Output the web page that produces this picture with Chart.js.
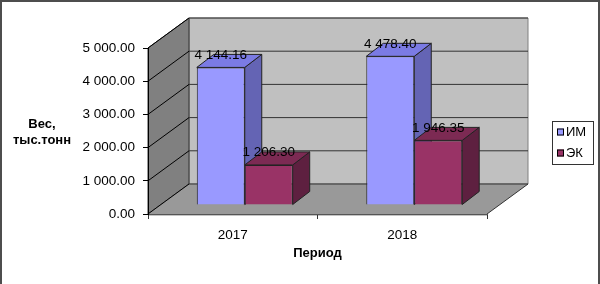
<!DOCTYPE html>
<html>
<head>
    <title>Вес по периодам</title>
    <meta charset="utf-8">
    <script src="https://cdn.jsdelivr.net/npm/chart.js"></script>
    <style>
        body {
            margin: 0;
            padding: 0;
            background-color: #fff;
        }
        #wrap {
            position: relative;
            width: 600px;
            height: 284px;
        }
    </style>
</head>
<body>
    <div id="wrap">
        <canvas id="weight-chart"></canvas>
    </div>

    <script>
        // данные
        const periods = ['2017', '2018'];
        const seriesNames = ['ИМ', 'ЭК'];
        const imValues = [4144.16, 4478.40];
        const ekValues = [1206.30, 1946.35];
        const yTicks = [0, 1000, 2000, 3000, 4000, 5000];

        // 3D: глубина стенок, сдвиг рядов и глубина столбиков
        const WALL = { x: 41, y: -30 };
        const SHIFT = { x: 12, y: -9 };
        const BAR = { x: 17, y: -13 };

        function fmt(v) {
            const parts = v.toFixed(2).split('.');
            return parts[0].replace(/\B(?=(\d{3})+(?!\d))/g, ' ') + '.' + parts[1];
        }

        function poly(ctx, pts, fill, stroke) {
            ctx.beginPath();
            ctx.moveTo(pts[0][0], pts[0][1]);
            for (let i = 1; i < pts.length; i++) ctx.lineTo(pts[i][0], pts[i][1]);
            ctx.closePath();
            if (fill) { ctx.fillStyle = fill; ctx.fill(); }
            if (stroke) { ctx.strokeStyle = stroke; ctx.lineWidth = 1; ctx.stroke(); }
        }

        const wallsPlugin = {
            id: 'walls',
            beforeDraw(chart) {
                const ctx = chart.ctx;
                const { left, right, top, bottom } = chart.chartArea;
                const dx = WALL.x, dy = WALL.y;
                ctx.save();
                poly(ctx, [[left + dx, top + dy], [right + dx, top + dy], [right + dx, bottom + dy], [left + dx, bottom + dy]], '#c0c0c0', '#808080');
                poly(ctx, [[left, top], [left + dx, top + dy], [left + dx, bottom + dy], [left, bottom]], '#808080', '#333');
                poly(ctx, [[left, bottom], [right, bottom], [right + dx, bottom + dy], [left + dx, bottom + dy]], '#999999', null);
                // край пола
                poly(ctx, [[left, bottom], [right, bottom], [right, bottom + 2], [left, bottom + 2]], '#c4c4c4', null);
                ctx.strokeStyle = '#333';
                ctx.lineWidth = 1;
                ctx.beginPath();
                ctx.moveTo(right, bottom);
                ctx.lineTo(right + dx, bottom + dy);
                ctx.stroke();

                // линии сетки
                const y = chart.scales.y;
                y.ticks.forEach(t => {
                    const py = y.getPixelForValue(t.value);
                    ctx.strokeStyle = '#000';
                    ctx.beginPath();
                    ctx.moveTo(left, py);
                    ctx.lineTo(left + dx, py + dy);
                    ctx.stroke();
                    ctx.strokeStyle = '#333';
                    ctx.beginPath();
                    ctx.moveTo(left + dx, py + dy);
                    ctx.lineTo(right + dx, py + dy);
                    ctx.stroke();
                });
                ctx.restore();
            }
        };

        const barsPlugin = {
            id: 'bars3d',
            beforeDatasetsDraw(chart) {
                const ctx = chart.ctx;
                ctx.save();
                ctx.translate(SHIFT.x, SHIFT.y);
                const bars = [];
                chart.data.datasets.forEach((ds, i) => {
                    chart.getDatasetMeta(i).data.forEach(el => bars.push({ el, ds }));
                });
                bars.sort((a, b) => a.el.x - b.el.x);
                bars.forEach(({ el, ds }) => {
                    const l = el.x - el.width / 2, r = el.x + el.width / 2;
                    const t = el.y, b = el.base;
                    poly(ctx, [[r, t], [r + BAR.x, t + BAR.y], [r + BAR.x, b + BAR.y], [r, b]], ds.sideColor, '#222');
                    poly(ctx, [[l, t], [r, t], [r + BAR.x, t + BAR.y], [l + BAR.x, t + BAR.y]], ds.topColor, '#222');
                });
            },
            afterDatasetsDraw(chart) {
                const ctx = chart.ctx;
                ctx.font = '13.5px Arial, "Liberation Sans", sans-serif';
                ctx.fillStyle = '#000';
                ctx.textAlign = 'center';
                ctx.textBaseline = 'middle';
                chart.data.datasets.forEach((ds, i) => {
                    chart.getDatasetMeta(i).data.forEach((el, j) => {
                        ctx.fillText(fmt(ds.data[j]), el.x, el.y - 12.5);
                    });
                });
                ctx.restore();
            },
            afterDraw(chart) {
                const ctx = chart.ctx;
                ctx.save();
                // подпись оси Y
                ctx.font = 'bold 13px Arial, "Liberation Sans", sans-serif';
                ctx.fillStyle = '#000';
                ctx.textAlign = 'center';
                ctx.textBaseline = 'middle';
                ctx.fillText('Вес,', 42, 124);
                ctx.fillText('тыс.тонн', 42, 140);

                // легенда
                ctx.strokeStyle = '#333';
                ctx.lineWidth = 1;
                ctx.strokeRect(552.5, 121.5, 41, 43);
                ctx.font = '13px Arial, "Liberation Sans", sans-serif';
                ctx.textAlign = 'left';
                chart.data.datasets.forEach((ds, i) => {
                    const cy = 132 + i * 21;
                    ctx.fillStyle = ds.backgroundColor;
                    ctx.fillRect(557, cy - 3.5, 7, 7);
                    ctx.strokeStyle = '#000';
                    ctx.strokeRect(557.5, cy - 3, 6, 6);
                    ctx.fillStyle = '#000';
                    ctx.fillText(ds.label, 566, cy);
                });

                // рамка
                ctx.fillStyle = '#4d4d4d';
                ctx.fillRect(0, 0, 600, 2);
                ctx.fillRect(0, 0, 2, 284);
                ctx.fillRect(598, 0, 2, 284);
                ctx.restore();
            }
        };

        const weightChart = new Chart(document.getElementById('weight-chart'), {
            type: 'bar',
            data: {
                labels: periods,
                datasets: [{
                    label: seriesNames[0],
                    data: imValues,
                    backgroundColor: '#9999ff',
                    topColor: '#7b7be4',
                    sideColor: '#6464b4',
                    borderColor: '#222',
                    borderWidth: 1,
                    clip: false
                }, {
                    label: seriesNames[1],
                    data: ekValues,
                    backgroundColor: '#993366',
                    topColor: '#7c2a53',
                    sideColor: '#5e2040',
                    borderColor: '#222',
                    borderWidth: 1,
                    clip: false
                }]
            },
            options: {
                responsive: true,
                maintainAspectRatio: false,
                animation: false,
                categoryPercentage: 0.566,
                barPercentage: 1,
                layout: {
                    padding: { left: 78, right: 113, top: 48, bottom: 20 }
                },
                plugins: {
                    legend: { display: false },
                    tooltip: { enabled: false }
                },
                scales: {
                    x: {
                        offset: true,
                        grid: { offset: true, drawOnChartArea: false, tickLength: 5, color: '#333' },
                        border: { color: '#555' },
                        ticks: {
                            color: '#000',
                            padding: 8,
                            font: { family: 'Arial, "Liberation Sans", sans-serif', size: 13.5 }
                        },
                        title: {
                            display: true,
                            text: 'Период',
                            color: '#000',
                            padding: { top: 0, bottom: 3 },
                            font: { family: 'Arial, "Liberation Sans", sans-serif', size: 13, weight: 'bold' }
                        },
                        afterFit(scale) { scale.height = 50; }
                    },
                    y: {
                        min: 0,
                        max: 5000,
                        grid: { drawOnChartArea: false, tickLength: 5, color: '#000' },
                        border: { color: '#000' },
                        ticks: {
                            color: '#000',
                            padding: 8,
                            font: { family: 'Arial, "Liberation Sans", sans-serif', size: 13.5 },
                            callback: v => fmt(v)
                        },
                        afterBuildTicks(scale) { scale.ticks = yTicks.map(v => ({ value: v })); },
                        afterFit(scale) { scale.width = 70; }
                    }
                }
            },
            plugins: [wallsPlugin, barsPlugin]
        });
    </script>
</body>
</html>
